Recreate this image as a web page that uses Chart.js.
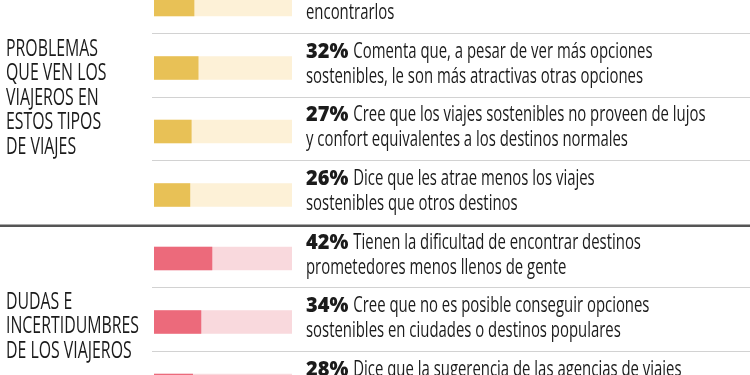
<!DOCTYPE html>
<html>
<head>
<meta charset="utf-8">
<script src="https://cdn.jsdelivr.net/npm/chart.js@4.4.0/dist/chart.umd.min.js"></script>
<style>
html, body { margin: 0; padding: 0; background: #fff; }
#wrap { width: 750px; height: 375px; }
</style>
</head>
<body>
<div id="wrap"><canvas id="viajesChart"></canvas></div>
<script>
// values (first and last rows are cut off)
const porcentajes = [29, 32, 27, 26, 42, 34, 28];
const total = 100;
const grupos = [0, 0, 0, 0, 1, 1, 1];
const textos = [
    ['Dice que no sabe dónde buscar estas opciones ni cómo', 'encontrarlos'],
    ['Comenta que, a pesar de ver más opciones', 'sostenibles, le son más atractivas otras opciones'],
    ['Cree que los viajes sostenibles no proveen de lujos', 'y confort equivalentes a los destinos normales'],
    ['Dice que les atrae menos los viajes', 'sostenibles que otros destinos'],
    ['Tienen la dificultad de encontrar destinos', 'prometedores menos llenos de gente'],
    ['Cree que no es posible conseguir opciones', 'sostenibles en ciudades o destinos populares'],
    ['Dice que la sugerencia de las agencias de viajes', 'no siempre incluye opciones sostenibles']
];
const titulosGrupo = [
    ['PROBLEMAS', 'QUE VEN LOS', 'VIAJEROS EN', 'ESTOS TIPOS', 'DE VIAJES'],
    ['DUDAS E', 'INCERTIDUMBRES', 'DE LOS VIAJEROS']
];

const colores = ['#e8c156', '#ec6a7b'];
const fondos = ['#fdf1d7', '#f9d9dd'];
const centroTitulo = [1.5, 5.1]; // where each group title sits on the row axis

const rowText = {
    id: 'rowText',
    afterDraw(chart) {
        const ctx = chart.ctx;
        const y = chart.scales.y;
        const bars = chart.getDatasetMeta(1).data;
        ctx.save();

        // separators between rows
        for (let i = 0; i < porcentajes.length - 1; i++) {
            const py = y.getPixelForValue(i + 0.5);
            ctx.beginPath();
            if (grupos[i] !== grupos[i + 1]) {
                ctx.strokeStyle = '#555';
                ctx.lineWidth = 2.5;
                ctx.moveTo(0, py - 1);
                ctx.lineTo(750, py - 1);
            } else {
                ctx.strokeStyle = '#d2d2d2';
                ctx.lineWidth = 1;
                ctx.moveTo(152, Math.round(py - 3) + 0.5);
                ctx.lineTo(750, Math.round(py - 3) + 0.5);
            }
            ctx.stroke();
        }

        // text next to each bar
        ctx.fillStyle = '#1b1b1b';
        ctx.textBaseline = 'alphabetic';
        ctx.font = '21px "Open Sans"';
        const sx = 337 / ctx.measureText(textos[1][1]).width;
        bars.forEach((bar, i) => {
            const cy = bar.y;
            ctx.font = '800 21px "Open Sans"';
            const pct = porcentajes[i] + '%';
            ctx.save();
            ctx.translate(306, 0);
            ctx.scale(0.95, 1);
            ctx.fillText(pct, 0, cy - 10);
            ctx.restore();
            const x0 = 306 + ctx.measureText(pct).width * 0.95 + 5;
            ctx.save();
            ctx.font = '21px "Open Sans"';
            ctx.translate(x0, 0);
            ctx.scale(sx, 1);
            ctx.fillText(textos[i][0], 0, cy - 10);
            ctx.restore();
            ctx.save();
            ctx.font = '21px "Open Sans"';
            ctx.translate(306, 0);
            ctx.scale(sx, 1);
            ctx.fillText(textos[i][1], 0, cy + 15);
            ctx.restore();
        });

        // group titles on the left
        ctx.font = '23px "Open Sans"';
        const sl = 133 / ctx.measureText('INCERTIDUMBRES').width;
        titulosGrupo.forEach((lineas, g) => {
            const c = y.getPixelForValue(centroTitulo[g]);
            lineas.forEach((t, k) => {
                const by = c + 5 + (k - (lineas.length - 1) / 2) * 24.5;
                ctx.save();
                ctx.translate(6, 0);
                ctx.scale(sl, 1);
                ctx.fillText(t, 0, by);
                ctx.restore();
            });
        });
        ctx.restore();
    }
};

new Chart(document.getElementById('viajesChart'), {
    type: 'bar',
    data: {
        datasets: [{
            label: 'Total',
            data: porcentajes.map((v, i) => ({ x: total, y: i })),
            backgroundColor: grupos.map(g => fondos[g]),
            barThickness: 23,
            grouped: false,
            order: 2
        }, {
            label: 'Porcentaje',
            data: porcentajes.map((v, i) => ({ x: v, y: i })),
            backgroundColor: grupos.map(g => colores[g]),
            barThickness: 23,
            grouped: false,
            order: 1
        }]
    },
    options: {
        indexAxis: 'y',
        responsive: true,
        maintainAspectRatio: false,
        animation: false,
        layout: { padding: { left: 154, right: 458, top: 0, bottom: 0 } },
        scales: {
            x: { type: 'linear', min: 0, max: 100, display: false },
            y: { type: 'linear', offset: false, min: -0.07, max: 5.834, reverse: true, display: false }
        },
        plugins: {
            legend: { display: false },
            tooltip: { enabled: false }
        }
    },
    plugins: [rowText]
});
</script>
</body>
</html>
